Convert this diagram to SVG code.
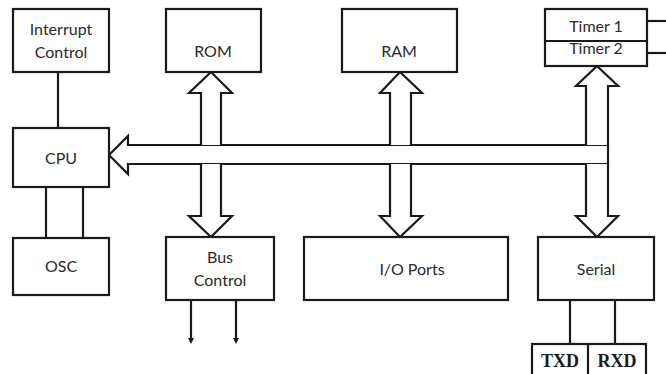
<svg xmlns="http://www.w3.org/2000/svg" width="666" height="374" viewBox="0 0 666 374">
<style>
.box{fill:#fff;stroke:#1a1a1a;stroke-width:2.2}
.ln{fill:none;stroke:#1a1a1a;stroke-width:2.2}
.bus{fill:#fff;stroke:#1a1a1a;stroke-width:2.2;stroke-linejoin:miter}
.t{font-family:Lato,"Open Sans","Liberation Sans",sans-serif;font-size:16px;fill:#2a2a2a;text-anchor:middle}
.s{font-family:"Liberation Serif","Times New Roman",serif;font-size:18px;font-weight:bold;fill:#1a1a1a;text-anchor:middle}
</style>
<defs>
<marker id="dot" markerWidth="6" markerHeight="6" refX="3" refY="3" orient="auto" markerUnits="userSpaceOnUse">
<path d="M0,0 L6,3 L0,6 Z" fill="#1a1a1a"/>
</marker>
</defs>
<g id="connectors">
<line class="ln" x1="58" y1="72" x2="58" y2="128"/>
<line class="ln" x1="46" y1="187" x2="46" y2="238"/>
<line class="ln" x1="83" y1="187" x2="83" y2="238"/>
<line class="ln" x1="191" y1="300" x2="191" y2="341" marker-end="url(#dot)"/>
<line class="ln" x1="236" y1="300" x2="236" y2="341" marker-end="url(#dot)"/>
<line class="ln" x1="570" y1="300" x2="570" y2="344"/>
<line class="ln" x1="615" y1="300" x2="615" y2="344"/>
<line class="ln" x1="647" y1="21" x2="666" y2="21"/>
<line class="ln" x1="647" y1="53" x2="666" y2="53"/>
<path class="bus" d="M608,145 L128,145 L128,136 L109,155 L128,174 L128,164 L608,164 Z"/>
<path class="bus" d="M201,145 L201,93 L189,93 L211,72 L232,93 L221,93 L221,145"/>
<path class="bus" d="M201,164 L201,216 L189,216 L211,237 L232,216 L221,216 L221,164"/>
<path class="bus" d="M390,145 L390,93 L380,93 L400,72 L422,93 L411,93 L411,145"/>
<path class="bus" d="M390,164 L390,216 L380,216 L400,237 L422,216 L411,216 L411,164"/>
<path class="bus" d="M586,145 L586,86 L576,86 L597,66 L618,86 L608,86 L608,145"/>
<path class="bus" d="M586,164 L586,216 L576,216 L597,237 L618,216 L608,216 L608,164"/>
</g>
<g id="interrupt">
<rect class="box" x="13" y="9" width="96" height="63"/>
<text class="t" x="61" y="35">Interrupt</text>
<text class="t" x="61" y="58">Control</text>
</g>
<g id="rom">
<rect class="box" x="166" y="9" width="95" height="63"/>
<text class="t" x="213" y="57">ROM</text>
</g>
<g id="ram">
<rect class="box" x="342" y="9" width="115" height="63"/>
<text class="t" x="399" y="57">RAM</text>
</g>
<g id="timers">
<rect class="box" x="545" y="9" width="102" height="57"/>
<line class="ln" x1="545" y1="41" x2="647" y2="41"/>
<text class="t" x="596" y="32">Timer 1</text>
<text class="t" x="596" y="54">Timer 2</text>
</g>
<g id="cpu">
<rect class="box" x="13" y="128" width="96" height="59"/>
<text class="t" x="61" y="164">CPU</text>
</g>
<g id="osc">
<rect class="box" x="13" y="238" width="96" height="57"/>
<text class="t" x="61" y="272">OSC</text>
</g>
<g id="buscontrol">
<rect class="box" x="166" y="237" width="108" height="63"/>
<text class="t" x="220" y="263">Bus</text>
<text class="t" x="220" y="286">Control</text>
</g>
<g id="ioports">
<rect class="box" x="304" y="237" width="204" height="63"/>
<text class="t" x="412" y="275">I/O Ports</text>
</g>
<g id="serial">
<rect class="box" x="538" y="237" width="116" height="63"/>
<text class="t" x="596" y="275">Serial</text>
</g>
<g id="txdrxd">
<rect class="box" x="532" y="344" width="114" height="40"/>
<line class="ln" x1="588" y1="344" x2="588" y2="374"/>
<text class="s" x="560" y="367">TXD</text>
<text class="s" x="617" y="367">RXD</text>
</g>
</svg>
